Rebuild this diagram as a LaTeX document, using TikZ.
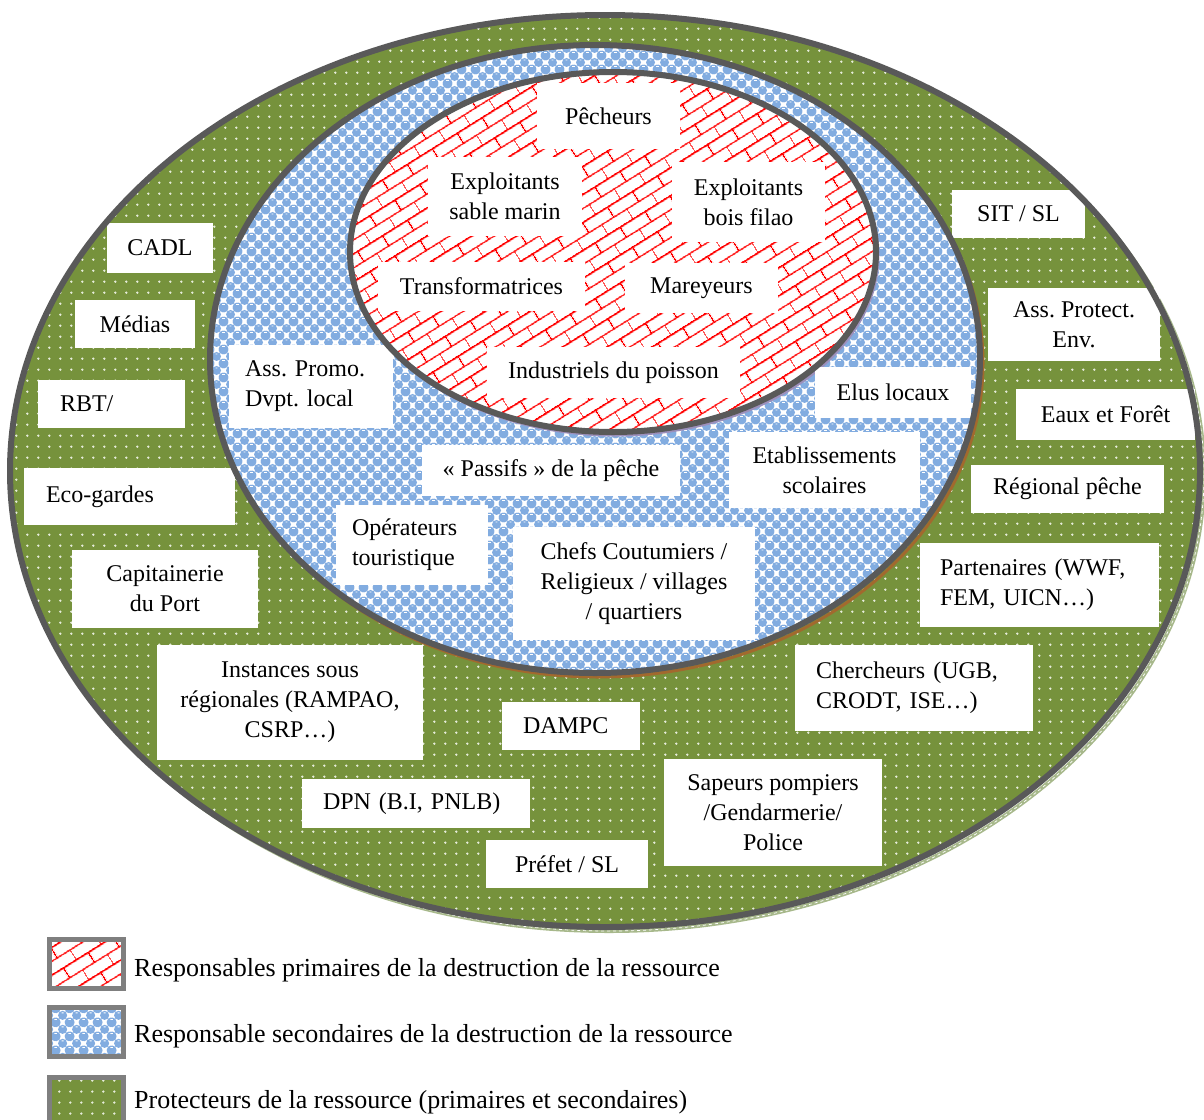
\documentclass[tikz,border=0pt]{standalone}
\usepackage{fontspec}
\setmainfont{Liberation Serif}
\usetikzlibrary{patterns.meta}

\definecolor{olivegreen}{HTML}{76923C}
\definecolor{dotcol}{HTML}{E6ECDA}
\definecolor{skyblue}{HTML}{82ACE0}
\definecolor{rimgray}{HTML}{595959}
\definecolor{leggray}{HTML}{7F7F7F}
\definecolor{rimshadow}{HTML}{A7B88B}
\definecolor{midshadow}{HTML}{A2692E}
\definecolor{innshadow}{HTML}{9C90BC}

% white dots on the green ring
\tikzdeclarepattern{
  name=greendots,
  type=colored,
  bottom left={(0pt,0pt)},
  top right={(10.8pt,10.8pt)},
  tile size={(10.8pt,10.8pt)},
  code={\tikzset{x=1pt,y=1pt}
    \fill[dotcol] (5.4,5.4) circle (1.3);}
}
% blue beads in a chequer
\tikzdeclarepattern{
  name=bluebeads,
  type=colored,
  bottom left={(0pt,0pt)},
  top right={(14pt,14pt)},
  tile size={(14pt,14pt)},
  code={\tikzset{x=1pt,y=1pt}
    \fill[skyblue] (0,0) circle (4.8) (14,0) circle (4.8) (0,14) circle (4.8)
      (14,14) circle (4.8) (7,7) circle (4.8);
    \draw[white, line width=0.9pt] (6,9.6) -- (8,9.6) (-1,2.6) -- (1,2.6) (13,2.6) -- (15,2.6);}
}
% red diagonal bricks
\tikzdeclarepattern{
  name=redbricks,
  type=colored,
  bottom left={(0pt,0pt)},
  top right={(30pt,24pt)},
  tile size={(30pt,24pt)},
  tile transformation={rotate=32},
  code={\tikzset{x=1pt,y=1pt}
    \draw[red, line width=1.6pt] (0,0) -- (30,0) (0,12) -- (30,12) (0,24) -- (30,24)
      (0,0) -- (0,12) (30,0) -- (30,12) (15,12) -- (15,24);}
}

\tikzset{
  lbl/.style={fill=white, inner sep=0pt, font=\fontsize{24}{30}\selectfont\frenchspacing},
  ctr/.style={lbl, align=center},
  lft/.style={lbl, align=left},
  rim/.style={draw=rimgray, line width=6pt},
  legbox/.style={draw=leggray, line width=5pt},
  legtext/.style={anchor=west, inner sep=0pt, font=\fontsize{26}{30}\selectfont},
}

\begin{document}
\begin{tikzpicture}[x=1pt, y=-1pt]
\useasboundingbox (0,0) rectangle (1204,1119);

% soft offset rims under each ring
\draw[rimshadow, line width=4pt] (609,475) ellipse [x radius=595, y radius=456];
\draw[white, line width=0.7pt, dashed] (609,475) ellipse [x radius=595, y radius=456];
\fill[olivegreen] (605,471) ellipse [x radius=595, y radius=456];
\fill[pattern=greendots] (605,471) ellipse [x radius=595, y radius=456];

\draw[midshadow, line width=3pt] (598,363) ellipse [x radius=385, y radius=314];
\fill[white] (595,359) ellipse [x radius=385, y radius=314];
\fill[pattern=bluebeads] (595,359) ellipse [x radius=385, y radius=314];

\draw[innshadow, line width=3pt] (615,255) ellipse [x radius=263, y radius=180];
\fill[white] (613,252) ellipse [x radius=263, y radius=180];
\fill[pattern=redbricks] (613,252) ellipse [x radius=263, y radius=180];

% primary actors
\node[ctr, minimum width=143pt, minimum height=66pt] (pech) at (608.5,116) {Pêcheurs};
\node[ctr, minimum width=154pt, minimum height=79pt] (expsab) at (505,196.5) {Exploitants\\sable marin};
\node[ctr, minimum width=153pt, minimum height=80pt] (expbois) at (748.5,202) {Exploitants\\bois filao};
\node[ctr, minimum width=207pt, minimum height=49pt] (transf) at (481.5,286.5) {Transformatrices};
\node[ctr, minimum width=153pt, minimum height=50pt] (marey) at (701.5,288) {Mareyeurs};
\node[ctr, minimum width=253pt, minimum height=51pt] (indus) at (613.5,372.5) {Industriels du poisson};

% secondary actors
\node[lft, text width=132pt, inner xsep=16pt, minimum height=83pt] (asspromo) at (311,386.5) {Ass. Promo.\\Dvpt. local};
\node[ctr, minimum width=156pt, minimum height=51pt] (elus) at (893,392.5) {Elus locaux};
\node[ctr, minimum width=258pt, minimum height=51pt] (passifs) at (551,470.5) {« Passifs » de la pêche};
\node[ctr, minimum width=191pt, minimum height=76pt] (etab) at (824.5,470) {Etablissements\\scolaires};
\node[lft, text width=120pt, inner xsep=16pt, minimum height=80pt] (operat) at (412,545) {Opérateurs\\touristique};
\node[ctr, minimum width=242pt, minimum height=113pt] (chefs) at (634,583.5) {Chefs Coutumiers /\\Religieux / villages\\/ quartiers};

% protectors
\node[ctr, minimum width=106pt, minimum height=50pt] (cadl) at (160,248) {CADL};
\node[ctr, minimum width=120pt, minimum height=48pt] (medias) at (135,324) {Médias};
\node[lft, text width=103pt, inner xsep=22pt, minimum height=48pt] (rbt) at (111.5,404) {RBT/};
\node[lft, text width=167pt, inner xsep=22pt, minimum height=57pt] (eco) at (129.5,496.5) {Eco-gardes};
\node[ctr, minimum width=186pt, minimum height=78pt] (capit) at (165,589) {Capitainerie\\du Port};
\node[ctr, minimum width=266pt, minimum height=115pt] (instances) at (290,702.5) {Instances sous\\régionales (RAMPAO,\\CSRP…)};
\node[lft, text width=96pt, inner xsep=21pt, minimum height=48pt] (dampc) at (571,726) {DAMPC};
\node[lft, text width=186pt, inner xsep=21pt, minimum height=49pt] (dpn) at (416,803.5) {DPN (B.I, PNLB)};
\node[ctr, minimum width=162pt, minimum height=48pt] (prefet) at (567,864) {Préfet / SL};
\node[ctr, minimum width=218pt, minimum height=107pt] (sapeurs) at (773,812.5) {Sapeurs pompiers\\/Gendarmerie/\\Police};
\node[lft, text width=196pt, inner xsep=21pt, minimum height=86pt] (cherch) at (914,688) {Chercheurs (UGB,\\CRODT, ISE…)};
\node[lft, text width=199pt, inner xsep=20pt, minimum height=84pt] (partn) at (1039.5,585) {Partenaires (WWF,\\FEM, UICN…)};
\node[ctr, minimum width=193pt, minimum height=48pt] (regional) at (1067.5,489) {Régional pêche};
\node[ctr, minimum width=179pt, minimum height=51pt] (eaux) at (1105.5,414.5) {Eaux et Forêt};
\node[ctr, minimum width=172pt, minimum height=73pt] (assprot) at (1074,324.5) {Ass. Protect.\\Env.};
\node[ctr, minimum width=133pt, minimum height=48pt] (sit) at (1018.5,214) {SIT / SL};

% ring outlines
\draw[rim] (605,471) ellipse [x radius=595, y radius=456];
\draw[rim] (595,359) ellipse [x radius=385, y radius=314];
\draw[rim] (613,252) ellipse [x radius=263, y radius=180];

% legend
\fill[white] (49,939) rectangle (123,988);
\fill[pattern=redbricks] (49,939) rectangle (123,988);
\draw[legbox] (49,939) rectangle (123,988);
\node[legtext] (leg1) at (134,970) {Responsables primaires de la destruction de la ressource};

\fill[white] (49,1007) rectangle (123,1056);
\fill[pattern=bluebeads] (49,1007) rectangle (123,1056);
\draw[legbox] (49,1007) rectangle (123,1056);
\node[legtext] (leg2) at (134,1036) {Responsable secondaires de la destruction de la ressource};

\fill[olivegreen] (49,1077) rectangle (123,1140);
\fill[pattern=greendots] (49,1077) rectangle (123,1140);
\draw[legbox] (49,1077) rectangle (123,1140);
\node[legtext] (leg3) at (134,1102) {Protecteurs de la ressource (primaires et secondaires)};
\end{tikzpicture}
\end{document}
